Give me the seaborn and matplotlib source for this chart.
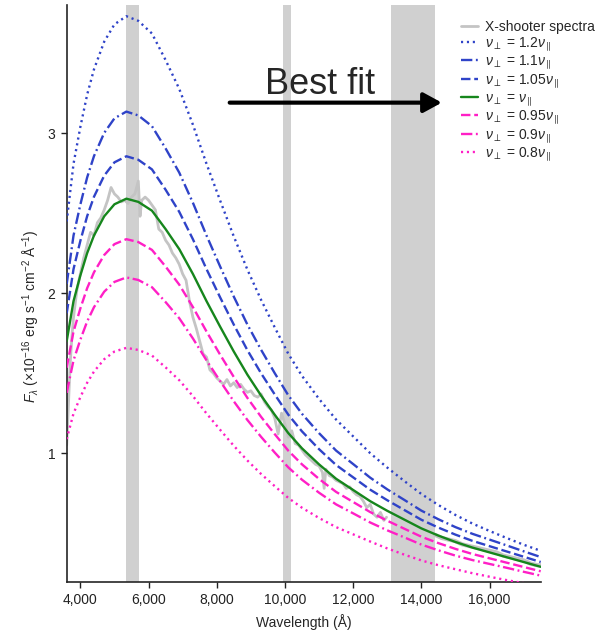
import numpy as np
import pandas as pd
import seaborn as sns
import matplotlib.pyplot as plt
from matplotlib.ticker import FuncFormatter

# model curves (flux in 1e-16 erg/s/cm2/A)
wl = [3600, 3800, 4000, 4200, 4400, 4700, 5000, 5350, 5700, 6100, 6500, 6900,
      7300, 7700, 8100, 8500, 8900, 9300, 9700, 10100, 10500, 11000, 11500,
      12000, 12500, 13000, 13500, 14000, 14500, 15000, 15500, 16000, 16500,
      17000, 17500]
f_120 = [2.448, 2.808, 3.038, 3.240, 3.398, 3.571, 3.679, 3.730, 3.701, 3.622,
         3.456, 3.276, 3.053, 2.808, 2.578, 2.354, 2.146, 1.958, 1.786, 1.620,
         1.483, 1.339, 1.210, 1.105, 1.000, 0.910, 0.826, 0.745, 0.676, 0.614,
         0.560, 0.514, 0.470, 0.428, 0.390]
f_110 = [2.057, 2.360, 2.553, 2.723, 2.856, 3.001, 3.092, 3.134, 3.110, 3.043,
         2.904, 2.753, 2.565, 2.360, 2.166, 1.978, 1.803, 1.646, 1.500, 1.361,
         1.246, 1.125, 1.016, 0.932, 0.847, 0.774, 0.708, 0.641, 0.587, 0.538,
         0.496, 0.460, 0.424, 0.387, 0.351]
f_105 = [1.874, 2.150, 2.326, 2.481, 2.602, 2.734, 2.817, 2.855, 2.833, 2.773,
         2.646, 2.508, 2.337, 2.150, 1.973, 1.803, 1.643, 1.499, 1.367, 1.240,
         1.136, 1.025, 0.926, 0.849, 0.772, 0.706, 0.645, 0.584, 0.535, 0.491,
         0.452, 0.419, 0.386, 0.353, 0.320]
f_100 = [1.700, 1.950, 2.110, 2.250, 2.360, 2.480, 2.555, 2.590, 2.570, 2.515,
         2.400, 2.275, 2.120, 1.950, 1.790, 1.635, 1.490, 1.360, 1.240, 1.125,
         1.030, 0.930, 0.840, 0.770, 0.700, 0.640, 0.585, 0.530, 0.485, 0.445,
         0.410, 0.380, 0.350, 0.320, 0.290]
f_095 = [1.534, 1.760, 1.904, 2.031, 2.130, 2.238, 2.306, 2.337, 2.319, 2.270,
         2.166, 2.053, 1.913, 1.760, 1.615, 1.476, 1.345, 1.227, 1.119, 1.015,
         0.930, 0.839, 0.758, 0.695, 0.632, 0.578, 0.528, 0.478, 0.438, 0.402,
         0.370, 0.343, 0.316, 0.289, 0.262]
f_090 = [1.377, 1.580, 1.709, 1.823, 1.912, 2.009, 2.070, 2.098, 2.082, 2.037,
         1.944, 1.843, 1.717, 1.580, 1.450, 1.324, 1.207, 1.102, 1.004, 0.911,
         0.834, 0.753, 0.680, 0.624, 0.567, 0.518, 0.474, 0.429, 0.393, 0.360,
         0.332, 0.308, 0.284, 0.259, 0.235]
f_080 = [1.088, 1.248, 1.350, 1.440, 1.510, 1.587, 1.635, 1.658, 1.645, 1.610,
         1.536, 1.456, 1.357, 1.248, 1.146, 1.046, 0.954, 0.870, 0.794, 0.720,
         0.659, 0.595, 0.538, 0.493, 0.448, 0.405, 0.366, 0.330, 0.300, 0.275,
         0.250, 0.228, 0.207, 0.188, 0.170]

# X-shooter spectrum (two pieces, gap at the telluric band)
spec_wl1 = [3600, 3650, 3700, 3750, 3800, 3900, 4000, 4100, 4200, 4300, 4400,
            4500, 4600, 4700, 4800, 4900, 5000, 5100, 5200, 5300, 5400, 5500,
            5600, 5700, 5750, 5800, 5900, 6000, 6100, 6200, 6300, 6400, 6500,
            6600, 6700, 6800, 6900, 7000, 7100, 7200, 7300, 7400, 7500, 7600,
            7700, 7800, 7900, 8000, 8100, 8200, 8300, 8400, 8500, 8600, 8700,
            8800, 8900, 9000, 9100, 9200, 9300, 9400, 9500, 9600, 9700, 9800,
            9900, 10000, 10100, 10200, 10300, 10400, 10500, 10600, 10700, 10800,
            10900, 11000, 11100, 11150, 11200, 11300, 11400, 11500, 11600, 11700,
            11800, 11900, 12000, 12100, 12200, 12300, 12400, 12500, 12600, 12700,
            12800, 12900, 12980]
spec_f1 = [1.05, 1.30, 1.55, 1.72, 1.85, 2.02, 2.12, 2.22, 2.30, 2.38, 2.36,
           2.44, 2.47, 2.52, 2.58, 2.66, 2.62, 2.60, 2.57, 2.58, 2.56, 2.60,
           2.62, 2.70, 2.48, 2.58, 2.60, 2.58, 2.55, 2.52, 2.40, 2.38, 2.33,
           2.30, 2.25, 2.22, 2.18, 2.12, 2.08, 1.95, 1.85, 1.78, 1.70, 1.62,
           1.60, 1.52, 1.50, 1.47, 1.45, 1.43, 1.46, 1.42, 1.44, 1.41, 1.43,
           1.40, 1.38, 1.39, 1.36, 1.35, 1.37, 1.32, 1.29, 1.27, 1.22, 1.12,
           1.25, 1.18, 1.10, 1.14, 1.06, 1.05, 1.02, 0.99, 0.97, 0.95,
           0.93, 0.92, 0.88, 0.78, 0.90, 0.86, 0.85, 0.83, 0.82, 0.81,
           0.78, 0.79, 0.76, 0.74, 0.73, 0.70, 0.66, 0.68, 0.62, 0.60,
           0.63, 0.58, 0.60]
spec_wl2 = [14400, 14600, 14800, 15000, 15200, 15400, 15600, 15800, 16000,
            16200, 16400, 16600, 16800, 17000, 17200, 17400, 17500]
spec_f2 = [0.49, 0.47, 0.46, 0.45, 0.43, 0.42, 0.41, 0.40, 0.39, 0.38, 0.36,
           0.35, 0.34, 0.33, 0.31, 0.30, 0.30]

# masked wavelength ranges
bands = [(5330, 5710), (9930, 10190), (13100, 14390)]

labels = [r'$\nu_{\perp}$ = 1.2$\nu_{\parallel}$', r'$\nu_{\perp}$ = 1.1$\nu_{\parallel}$',
          r'$\nu_{\perp}$ = 1.05$\nu_{\parallel}$', r'$\nu_{\perp}$ = $\nu_{\parallel}$',
          r'$\nu_{\perp}$ = 0.95$\nu_{\parallel}$', r'$\nu_{\perp}$ = 0.9$\nu_{\parallel}$',
          r'$\nu_{\perp}$ = 0.8$\nu_{\parallel}$']

sns.set_style("ticks")
plt.rcParams['font.family'] = ['Liberation Sans', 'DejaVu Sans']
plt.rcParams['mathtext.fontset'] = 'custom'
plt.rcParams['mathtext.rm'] = 'Liberation Sans'
plt.rcParams['mathtext.it'] = 'Liberation Sans:italic'

fig = plt.figure(figsize=(6.02, 6.32), dpi=100)
ax = fig.add_axes([66.7/602, 1-581.7/632, 474/602, 576.7/632])

for lo, hi in bands:
    ax.axvspan(lo, hi, color='#d0d0d0', lw=0, zorder=0)

grey = '#c4c4c4'
sns.lineplot(x=spec_wl1, y=spec_f1, ax=ax, color=grey, lw=2, label='X-shooter spectra', zorder=1)
sns.lineplot(x=spec_wl2, y=spec_f2, ax=ax, color=grey, lw=3, zorder=1)

blue = '#2f43c8'
mag = '#ff1fc6'
green = '#16861c'
dot = (0, (0.9, 1.6))
dash = (0, (4, 1.6))
dashdot = (0, (4.8, 1.5, 0.8, 1.5))
curves = [f_120, f_110, f_105, f_100, f_095, f_090, f_080]
colors = [blue, blue, blue, green, mag, mag, mag]
styles = [dot, dashdot, dash, '-', dash, dashdot, dot]
for ys, c, ls, lab in zip(curves, colors, styles, labels):
    sns.lineplot(x=wl, y=ys, ax=ax, color=c, linestyle=ls, lw=1.7, label=lab, zorder=3)

ax.set_xlim(3600, 17500)
ax.set_ylim(0.197, 3.8)
ax.set_xticks(range(4000, 17000, 2000))
ax.set_yticks([1, 2, 3])
ax.xaxis.set_major_formatter(FuncFormatter(lambda v, p: f'{v:,.0f}'))
ax.tick_params(labelsize=10, length=4.5, width=1, colors='#222222')
sns.despine(ax=ax)
for s in ['left', 'bottom']:
    ax.spines[s].set_linewidth(1.2)

ax.set_xlabel('Wavelength (Å)', fontsize=10, labelpad=5)
ax.set_ylabel(r'$F_\lambda$ (×10$^{-16}$ erg s$^{-1}$ cm$^{-2}$ Å$^{-1}$)', fontsize=10)
ax.yaxis.set_label_coords(-0.052, 0.461)

ax.annotate('', xy=(14600, 3.19), xytext=(8380, 3.19),
            arrowprops=dict(arrowstyle='-|>,head_length=0.55,head_width=0.3',
                            lw=3, color='black', shrinkA=0, shrinkB=0, mutation_scale=20))
ax.text(11020, 3.246, 'Best fit', fontsize=26, ha='center', va='baseline')

ax.legend(loc='upper left', bbox_to_anchor=(461/602, 1-20/632), bbox_transform=fig.transFigure,
          frameon=False, fontsize=10, handlelength=1.2, handletextpad=0.5,
          labelspacing=0.05, borderpad=0, borderaxespad=0)

plt.savefig("out.png", dpi=100)
